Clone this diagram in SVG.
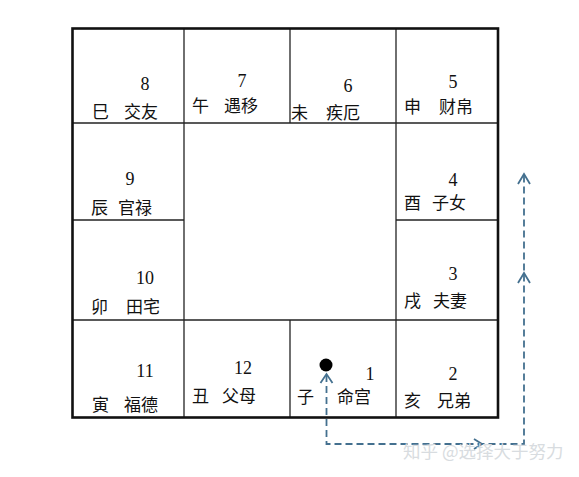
<svg xmlns="http://www.w3.org/2000/svg" width="579" height="477" viewBox="0 0 579 477">
<style>
.cn{font-family:"Noto Sans CJK SC","Noto Sans CJK JP",sans-serif;font-size:17px;fill:#111}
.num{font-family:"Liberation Serif","DejaVu Serif",serif;font-size:18px;fill:#111;text-anchor:middle}
.grid{stroke:#222;stroke-width:1.3;fill:none}
.dash{stroke:#44708f;stroke-width:1.8;fill:none;stroke-dasharray:7 4}
.chev{stroke:#44708f;stroke-width:1.8;fill:none;stroke-linejoin:miter}
.wm{font-family:"Noto Sans CJK SC",sans-serif;font-size:17.5px;fill:#d8dce0}
</style>
<rect width="579" height="477" fill="#fff"/>
<g id="grid">
<line class="grid" x1="184" y1="28" x2="184" y2="417"/>
<line class="grid" x1="290" y1="28" x2="290" y2="123"/>
<line class="grid" x1="290" y1="320" x2="290" y2="417"/>
<line class="grid" x1="396" y1="28" x2="396" y2="417"/>
<line class="grid" x1="72" y1="123" x2="498" y2="123"/>
<line class="grid" x1="72" y1="220" x2="184" y2="220"/>
<line class="grid" x1="396" y1="220" x2="498" y2="220"/>
<line class="grid" x1="72" y1="320" x2="498" y2="320"/>
<rect x="72.5" y="28.5" width="425.5" height="389" fill="none" stroke="#111" stroke-width="2.6"/>
</g>
<g id="p8"><text class="num" x="145" y="90">8</text><text class="cn" x="92" y="118">巳</text><text class="cn" x="124" y="118">交友</text></g>
<g id="p7"><text class="num" x="242" y="87">7</text><text class="cn" x="192" y="112">午</text><text class="cn" x="224" y="112">遇移</text></g>
<g id="p6"><text class="num" x="348" y="92">6</text><text class="cn" x="291" y="119">未</text><text class="cn" x="326" y="119">疾厄</text></g>
<g id="p5"><text class="num" x="453" y="88">5</text><text class="cn" x="404" y="113">申</text><text class="cn" x="439" y="113">财帛</text></g>
<g id="p9"><text class="num" x="130" y="185">9</text><text class="cn" x="91" y="214">辰</text><text class="cn" x="118" y="214">官禄</text></g>
<g id="p4"><text class="num" x="453" y="186">4</text><text class="cn" x="404" y="209">酉</text><text class="cn" x="432" y="209">子女</text></g>
<g id="p10"><text class="num" x="145" y="284">10</text><text class="cn" x="91" y="313">卯</text><text class="cn" x="126" y="313">田宅</text></g>
<g id="p3"><text class="num" x="453" y="280">3</text><text class="cn" x="404" y="307">戌</text><text class="cn" x="433" y="307">夫妻</text></g>
<g id="p11"><text class="num" x="145" y="377">11</text><text class="cn" x="92" y="411">寅</text><text class="cn" x="124" y="411">福德</text></g>
<g id="p12"><text class="num" x="243" y="374">12</text><text class="cn" x="192" y="402">丑</text><text class="cn" x="222" y="402">父母</text></g>
<g id="p1"><text class="num" x="370" y="380">1</text><text class="cn" x="297" y="403">子</text><text class="cn" x="337" y="403">命宫</text><circle cx="326" cy="365" r="6.5" fill="#000"/></g>
<g id="p2"><text class="num" x="453" y="380">2</text><text class="cn" x="404" y="407">亥</text><text class="cn" x="437" y="407">兄弟</text></g>
<g id="connectors">
<path class="dash" d="M326.5,375 V444 H524 V175"/>
<path class="chev" d="M320.5,383 L326.5,374 L332.5,383"/>
<path class="chev" d="M474,439 L482,444 L474,449"/>
<path class="chev" d="M518,283 L524,273 L530,283"/>
<path class="chev" d="M518,184 L524,174 L530,184"/>
</g>
<text class="wm" x="403" y="458">知乎 @选择大于努力</text>
</svg>
